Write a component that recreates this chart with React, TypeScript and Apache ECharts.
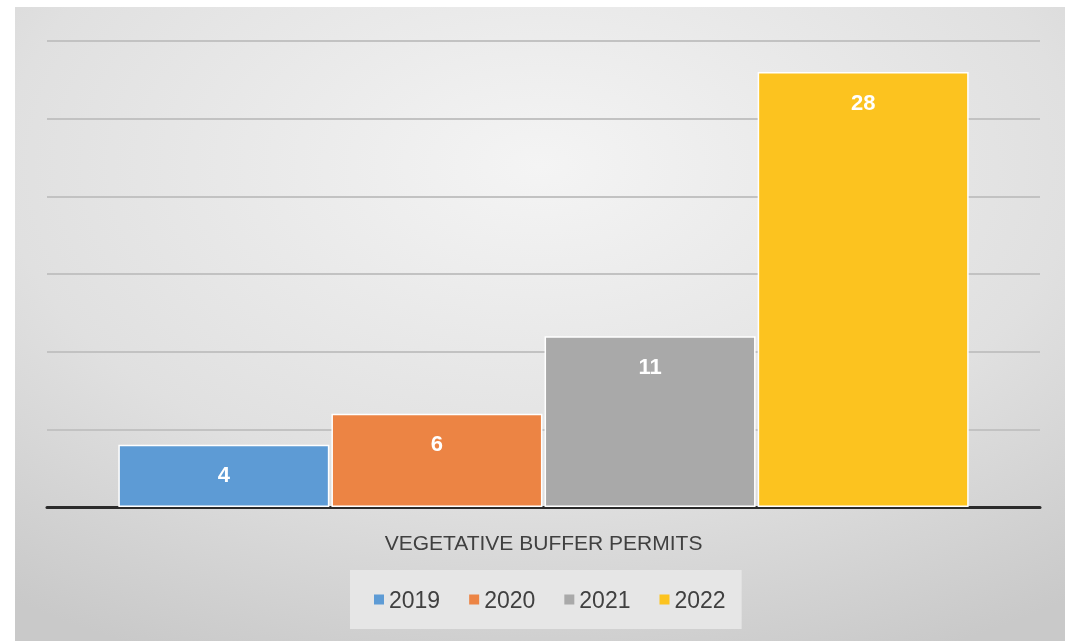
import React, { useEffect, useRef } from "react";
import * as echarts from "echarts";

const categories = ["VEGETATIVE BUFFER PERMITS"];
const seriesNames = ["2019", "2020", "2021", "2022"];
const seriesValues = [[4], [6], [11], [28]];
const seriesColors = ["#5d9bd5", "#ec8444", "#a9a9a9", "#fcc31f"];

export default function App() {
  const ref = useRef<HTMLDivElement>(null);
  useEffect(() => {
    if (!ref.current) return;
    const chart = echarts.init(ref.current, null, { renderer: "svg" });
    chart.setOption({
      animation: false,
      graphic: [
        {
          type: "rect",
          z: -10,
          silent: true,
          shape: { x: 15, y: 7, width: 1050, height: 634 },
          style: {
            fill: {
              type: "radial",
              x: 0.5,
              y: 0.25,
              r: 0.85,
              colorStops: [
                { offset: 0, color: "#f4f4f4" },
                { offset: 0.6, color: "#e0e0e0" },
                { offset: 1, color: "#c9c9c9" },
              ],
            },
          },
        },
      ],
      grid: { left: 47, right: 25, top: 41, bottom: 134 },
      xAxis: {
        type: "category",
        data: categories,
        axisTick: { show: false },
        axisLine: { show: true, lineStyle: { color: "#2b2b2b", width: 3 } },
        axisLabel: {
          margin: 25,
          fontSize: 21,
          color: "#404040",
          fontFamily: "Liberation Sans",
        },
      },
      yAxis: {
        type: "value",
        min: 0,
        max: 30,
        interval: 5,
        axisLabel: { show: false },
        axisLine: { show: false },
        axisTick: { show: false },
        splitLine: { lineStyle: { color: "#c2c2c2", width: 2 } },
      },
      legend: {
        data: seriesNames,
        left: 350,
        top: 570,
        backgroundColor: "#e6e6e6",
        padding: [18, 16, 18, 24],
        itemWidth: 10,
        itemHeight: 10,
        itemGap: 29,
        icon: "rect",
        itemStyle: { borderWidth: 0 },
        textStyle: {
          fontSize: 23,
          color: "#404040",
          fontFamily: "Liberation Sans",
        },
      },
      series: seriesNames.map((name, i) => ({
        name,
        type: "bar",
        data: seriesValues[i],
        barWidth: 211,
        barGap: "1%",
        itemStyle: {
          color: seriesColors[i],
          borderColor: "#ffffff",
          borderWidth: 1.5,
        },
        label: {
          show: true,
          position: "insideTop",
          distance: 19,
          color: "#ffffff",
          fontSize: 22,
          fontWeight: "bold",
          fontFamily: "Liberation Sans",
        },
      })),
    });
    return () => chart.dispose();
  }, []);
  return (
    <div
      ref={ref}
      style={{ position: "fixed", left: 0, top: 0, width: 1065, height: 641 }}
    />
  );
}
